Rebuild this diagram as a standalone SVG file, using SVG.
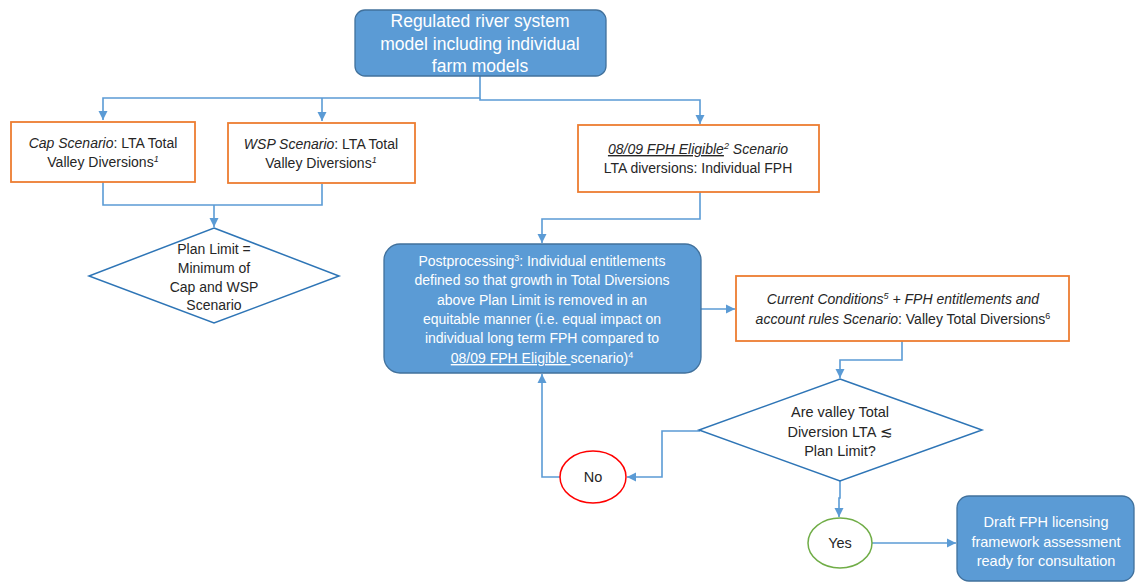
<svg xmlns="http://www.w3.org/2000/svg" width="1136" height="583" viewBox="0 0 1136 583">
<style>
  text { font-family: "Liberation Sans", Arial, sans-serif; font-size: 14px; fill: #262626; text-anchor: middle; }
  .wt { fill: #ffffff; }
  .it { font-style: italic; }
  .ul { text-decoration: underline; }
  .sup { font-size: 9px; }
  .blue { fill: #5B9BD5; stroke: #41719C; stroke-width: 1.3; }
  .orange { fill: #ffffff; stroke: #ED7D31; stroke-width: 1.8; }
  .dia { fill: #ffffff; stroke: #2E75B6; stroke-width: 1.5; }
  .conn { fill: none; stroke: #5B9BD5; stroke-width: 1.6; }
</style>
<defs>
  <marker id="arr" markerUnits="userSpaceOnUse" markerWidth="10" markerHeight="10" refX="9" refY="5" orient="auto">
    <path d="M0,0.5 L9,5 L0,9.5 z" fill="#5B9BD5"/>
  </marker>
</defs>
<rect width="1136" height="583" fill="#ffffff"/>

<g id="connectors">
  <path class="conn" d="M480,76 V98 H103 V120" marker-end="url(#arr)"/>
  <path class="conn" d="M322,98 V121" marker-end="url(#arr)"/>
  <path class="conn" d="M480,98 V100 H700 V124" marker-end="url(#arr)"/>
  <path class="conn" d="M103,182 V205 H322 V184"/>
  <path class="conn" d="M214,205 V227" marker-end="url(#arr)"/>
  <path class="conn" d="M700,192 V219 H542 V243" marker-end="url(#arr)"/>
  <path class="conn" d="M701,309 H735" marker-end="url(#arr)"/>
  <path class="conn" d="M902,341 V360 H840 V378" marker-end="url(#arr)"/>
  <path class="conn" d="M700,431 H662 V477 H627" marker-end="url(#arr)"/>
  <path class="conn" d="M560,477 H542 V374" marker-end="url(#arr)"/>
  <path class="conn" d="M840,481 V498 H839 V517" marker-end="url(#arr)"/>
  <path class="conn" d="M872,543 H956" marker-end="url(#arr)"/>
</g>

<g id="model">
  <rect class="blue" x="355" y="10" width="251" height="66" rx="10"/>
  <text class="wt" x="480" y="27" style="font-size:17.5px">Regulated river system</text>
  <text class="wt" x="480" y="50" style="font-size:17.5px">model including individual</text>
  <text class="wt" x="480" y="72" style="font-size:17.5px">farm models</text>
</g>

<g id="cap">
  <rect class="orange" x="11" y="122" width="184" height="60"/>
  <text x="103" y="148"><tspan class="it">Cap Scenario</tspan>: LTA Total</text>
  <text x="103" y="167">Valley Diversions<tspan class="it sup" dy="-5">1</tspan></text>
</g>

<g id="wsp">
  <rect class="orange" x="228" y="123" width="187" height="60"/>
  <text x="321" y="149"><tspan class="it">WSP Scenario</tspan>: LTA Total</text>
  <text x="321" y="168">Valley Diversions<tspan class="it sup" dy="-5">1</tspan></text>
</g>

<g id="fph">
  <rect class="orange" x="578" y="125" width="241" height="67"/>
  <text x="698" y="154" class="it"><tspan class="ul">08/09 FPH Eligible</tspan><tspan class="sup" dy="-5">2</tspan><tspan dy="5"> Scenario</tspan></text>
  <text x="698" y="173">LTA diversions: Individual FPH</text>
</g>

<g id="planlimit">
  <polygon class="dia" points="214,228 339,276 214,323 89,276"/>
  <text x="214" y="254">Plan Limit =</text>
  <text x="214" y="273">Minimum of</text>
  <text x="214" y="292">Cap and WSP</text>
  <text x="214" y="310">Scenario</text>
</g>

<g id="postprocessing">
  <rect class="blue" x="384" y="244" width="317" height="129" rx="16"/>
  <text class="wt" x="542" y="266">Postprocessing<tspan class="sup" dy="-5">3</tspan><tspan dy="5">: Individual entitlements</tspan></text>
  <text class="wt" x="542" y="285">defined so that growth in Total Diversions</text>
  <text class="wt" x="542" y="305">above Plan Limit is removed in an</text>
  <text class="wt" x="542" y="324">equitable manner (i.e. equal impact on</text>
  <text class="wt" x="542" y="343">individual long term FPH compared to</text>
  <text class="wt" x="542" y="363"><tspan class="ul">08/09 FPH Eligible </tspan>scenario)<tspan class="sup" dy="-5">4</tspan></text>
</g>

<g id="current">
  <rect class="orange" x="736" y="276" width="333" height="65"/>
  <text x="903" y="304" class="it">Current Conditions<tspan class="sup" dy="-5">5</tspan><tspan dy="5"> + FPH entitlements and</tspan></text>
  <text x="903" y="324"><tspan class="it">account rules Scenario</tspan>: Valley Total Diversions<tspan class="sup" dy="-5">6</tspan></text>
</g>

<g id="decision">
  <polygon class="dia" points="840,379 982,430 840,481 699,430"/>
  <text x="840" y="417" style="font-size:14.5px">Are valley Total</text>
  <text x="840" y="437" style="font-size:14.5px">Diversion LTA ≲</text>
  <text x="840" y="456" style="font-size:14.5px">Plan Limit?</text>
</g>

<g id="no">
  <ellipse cx="593" cy="477" rx="33" ry="26" fill="#ffffff" stroke="#FF0000" stroke-width="1.5"/>
  <text x="593" y="482" style="font-size:14.5px">No</text>
</g>

<g id="yes">
  <ellipse cx="840" cy="543" rx="32" ry="25" fill="#ffffff" stroke="#70AD47" stroke-width="1.5"/>
  <text x="840" y="548" style="font-size:14.5px">Yes</text>
</g>

<g id="draft">
  <rect class="blue" x="957" y="496" width="177" height="85" rx="12"/>
  <text class="wt" x="1046" y="527" style="font-size:14.5px">Draft FPH licensing</text>
  <text class="wt" x="1046" y="547" style="font-size:14.5px">framework assessment</text>
  <text class="wt" x="1046" y="566" style="font-size:14.5px">ready for consultation</text>
</g>
</svg>
